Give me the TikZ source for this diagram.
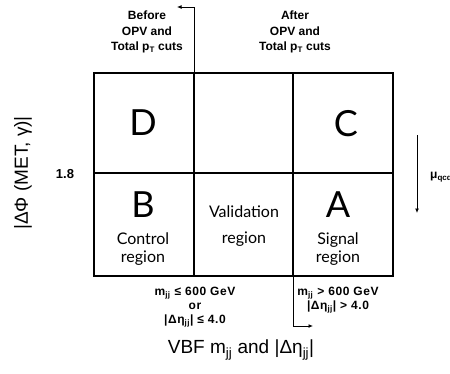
\documentclass[tikz,border=0pt]{standalone}
\usepackage{fontspec}
\setmainfont{Liberation Sans}
\newfontfamily\gill{Lato}
\usetikzlibrary{arrows.meta}
\begin{document}
\begin{tikzpicture}[x=1pt,y=-1pt,
  grid/.style={line width=1.8pt},
  conn/.style={line width=0.9pt},
  tip/.style={-{Latex[length=4.5pt,width=4pt]}},
  bold/.style={font=\bfseries\fontsize{12}{15.5}\selectfont,align=center,inner sep=0pt},
  lowbold/.style={font=\bfseries\fontsize{12}{14}\selectfont\addfontfeatures{LetterSpace=5},align=center,inner sep=0pt},
  letter/.style={font=\gill\fontsize{36}{36}\selectfont,inner sep=0pt},
  region/.style={font=\gill\fontsize{16}{18}\selectfont,align=center,inner sep=0pt},
  big/.style={font=\fontsize{19}{19}\selectfont,inner sep=0pt}]
\useasboundingbox (0,0) rectangle (450,373);
% grid
\coordinate (TL) at (94,73);
\coordinate (BR) at (393,276);
\coordinate (v1t) at (194,73);
\coordinate (v1b) at (194,276);
\coordinate (v2t) at (293,73);
\coordinate (v2b) at (293,276);
\coordinate (hl) at (94,173);
\coordinate (hr) at (393,173);
\draw[grid] (TL) rectangle (BR);
\draw[grid] (v1t) -- (v1b);
\draw[grid] (v2t) -- (v2b);
\draw[grid] (hl) -- (hr);
% cells
\node[letter] (D) at (143,123) {D};
\node[letter] (C) at (346,124) {C};
\node[letter] (B) at (143,205) {B};
\node[letter] (A) at (338,205) {A};
\node[region] (ctrl) at (143,249) {Control\\region};
\node[region] (valid) at (244,226) {Validation\\[8pt]region};
\node[region] (sig) at (338,249) {Signal\\region};
% top arrow
\coordinate (ta) at (194,7);
\coordinate (tb) at (177,7);
\draw[conn,tip] (v1t) -- (ta) -- (tb);
\node[bold] (before) at (147,32) {Before\\OPV and\\Total p\textsubscript{T} cuts};
\node[bold] (after) at (295,32) {After\\OPV and\\Total p\textsubscript{T} cuts};
% bottom arrow
\coordinate (ba) at (293,326);
\coordinate (bb) at (313,326);
\draw[conn,tip] (v2b) -- (ba) -- (bb);
\node[lowbold] (low) at (195,307) {m\textsubscript{jj} ≤ 600 GeV\\or\\|Δη\textsubscript{jj}| ≤ 4.0};
\node[lowbold] (high) at (338,300) {m\textsubscript{jj} > 600 GeV\\|Δη\textsubscript{jj}| > 4.0};
% right arrow
\coordinate (ra) at (417,135);
\coordinate (rb) at (417,213);
\draw[conn,tip] (ra) -- (rb);
\node[bold,anchor=west] (mu) at (430,177) {μ\textsubscript{qcd}};
% axes labels
\node[bold,font=\bfseries\fontsize{13}{13}\selectfont] (v18) at (65,174) {1.8};
\node[big,rotate=90] (ylab) at (23,173) {|ΔΦ (MET, γ)|};
\node[big] (xlab) at (241,350) {VBF m\textsubscript{jj} and |Δη\textsubscript{jj}|};
\end{tikzpicture}
\end{document}
